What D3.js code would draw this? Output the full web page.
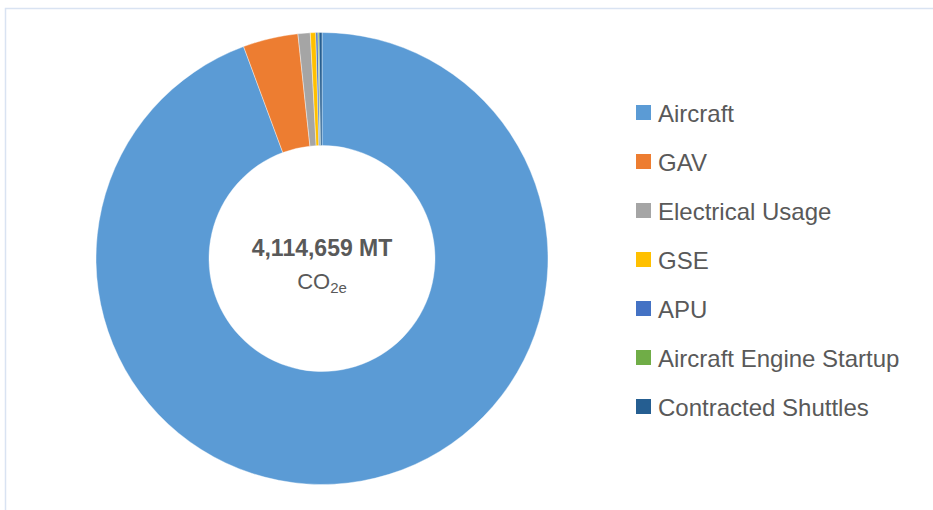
<!DOCTYPE html>
<html>
<head>
<meta charset="utf-8">
<script src="https://cdn.jsdelivr.net/npm/d3@7"></script>
<style>
  body { margin: 0; background: #fff; }
  text { font-family: "Liberation Sans", Arial, sans-serif; }
</style>
</head>
<body>
<div id="vis"></div>
<script>
const WIDTH = 933;
const HEIGHT = 510;

// emissions by source, MT CO2e
const categories = ["Aircraft", "GAV", "Electrical Usage", "GSE", "APU", "Aircraft Engine Startup", "Contracted Shuttles"];
const values = [3882600, 162100, 36000, 16000, 6200, 3300, 8459];
const colors = ["#5B9BD5", "#ED7D31", "#A5A5A5", "#FFC000", "#4472C4", "#70AD47", "#255E91"];

const CX = 322, CY = 258.5;
const R_OUT = 226, R_IN = 113;

const svg = d3.select("#vis")
  .append("svg")
    .attr("width", WIDTH)
    .attr("height", HEIGHT);

// chart area border (cut off at right and bottom)
svg.append("rect")
  .attr("x", 5.5)
  .attr("y", 8.5)
  .attr("width", WIDTH + 20)
  .attr("height", HEIGHT + 20)
  .attr("fill", "none")
  .attr("stroke", "#D9E3F2")
  .attr("stroke-width", 1.5);

const color = d3.scaleOrdinal().domain(categories).range(colors);

const pie = d3.pie()
  .sort(null)
  .value(d => d.value);

const arc = d3.arc()
  .innerRadius(R_IN)
  .outerRadius(R_OUT);

const data = categories.map((c, i) => ({name: c, value: values[i]}));

const g = svg.append("g")
  .attr("transform", "translate(" + CX + "," + CY + ")");

g.selectAll("path")
  .data(pie(data))
  .enter()
  .append("path")
    .attr("d", arc)
    .attr("fill", d => color(d.data.name))
    .attr("stroke", "#fff")
    .attr("stroke-width", 0.4);

// center label
const total = d3.sum(values);
g.append("text")
  .attr("text-anchor", "middle")
  .attr("y", -3)
  .attr("font-size", 23)
  .attr("font-weight", "bold")
  .attr("fill", "#595959")
  .text(d3.format(",")(total) + " MT");

const co = g.append("text")
  .attr("text-anchor", "middle")
  .attr("y", 30)
  .attr("font-size", 22)
  .attr("fill", "#595959");
co.append("tspan").text("CO");
co.append("tspan")
  .attr("font-size", 15)
  .attr("dy", 4)
  .text("2e");

// legend
const legend = svg.append("g")
  .attr("transform", "translate(636,113)");

const rows = legend.selectAll("g")
  .data(categories)
  .enter()
  .append("g")
    .attr("transform", (d, i) => "translate(0," + (i * 49) + ")");

rows.append("rect")
  .attr("x", 0)
  .attr("y", -8)
  .attr("width", 15)
  .attr("height", 15)
  .attr("fill", d => color(d));

rows.append("text")
  .attr("x", 22)
  .attr("y", 8.5)
  .attr("font-size", 24)
  .attr("fill", "#595959")
  .text(d => d);
</script>
</body>
</html>
